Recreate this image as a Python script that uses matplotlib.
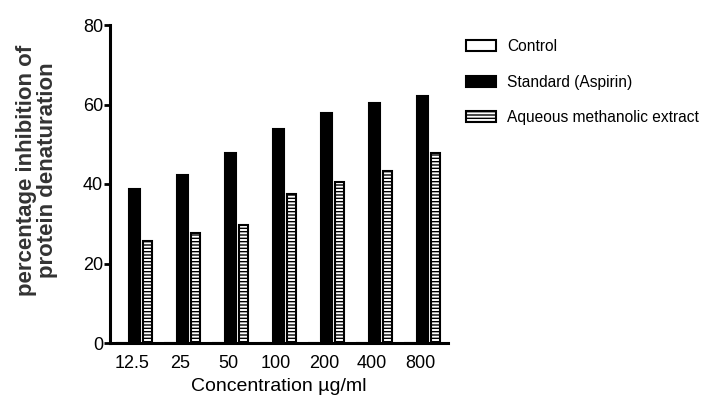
import numpy as np
import matplotlib
matplotlib.use('Agg')
import matplotlib.pyplot as plt

concentrations = ['12.5', '25', '50', '100', '200', '400', '800']
control = [0, 0, 0, 0, 0, 0, 0]
standard = [38.7, 42.3, 47.7, 53.8, 57.8, 60.5, 62.1]
extract = [25.7, 27.6, 29.7, 37.4, 40.6, 43.3, 47.7]

sans = ['Liberation Sans', 'DejaVu Sans']
plt.rcParams['hatch.linewidth'] = 1.0

fig = plt.figure(figsize=(7.07, 4.03), dpi=100)
ax = fig.add_axes([110/707, 1-343/403, (448-110)/707, (343-25)/403])

x = np.arange(len(concentrations))
xb = x + 0.05
w = 0.23
off = 0.27
ax.bar(xb - off, control, w, color='white', edgecolor='black', linewidth=1.5, label='Control')
ax.bar(xb, standard, w, color='black', edgecolor='black', linewidth=1.5, label='Standard (Aspirin)')
ax.bar(xb + off, extract, 0.2, color='white', edgecolor='black', linewidth=1.5,
       hatch='-----', label='Aqueous methanolic extract')

ax.set_xlim(-0.46, 6.58)
ax.set_ylim(0, 80)
ax.set_yticks([0, 20, 40, 60, 80])
ax.set_xticks(x)
ax.set_xticklabels(concentrations, family=sans, fontsize=13)
for lab in ax.get_yticklabels():
    lab.set_family(sans)
    lab.set_fontsize(13)
ax.tick_params(axis='y', length=4, width=2, pad=1)
ax.tick_params(axis='x', length=0, pad=9)

for s in ['top', 'right']:
    ax.spines[s].set_visible(False)
for s in ['left', 'bottom']:
    ax.spines[s].set_linewidth(2.2)

ax.set_xlabel('Concentration µg/ml', family=sans, fontsize=14, labelpad=4)
ax.set_ylabel('percentage inhibition of\nprotein denaturation', fontsize=16,
              fontweight='bold', family=sans, color='#333333', linespacing=1.0)
ax.yaxis.set_label_coords(-0.154, 0.544)

fig.legend(loc='upper left', bbox_to_anchor=(452/707, 1-25/403), frameon=False,
           prop={'family': sans, 'size': 11.2}, handlelength=1.9, handleheight=0.7,
           handletextpad=0.75, labelspacing=1.33)

fig.savefig('out.png', dpi=100)
